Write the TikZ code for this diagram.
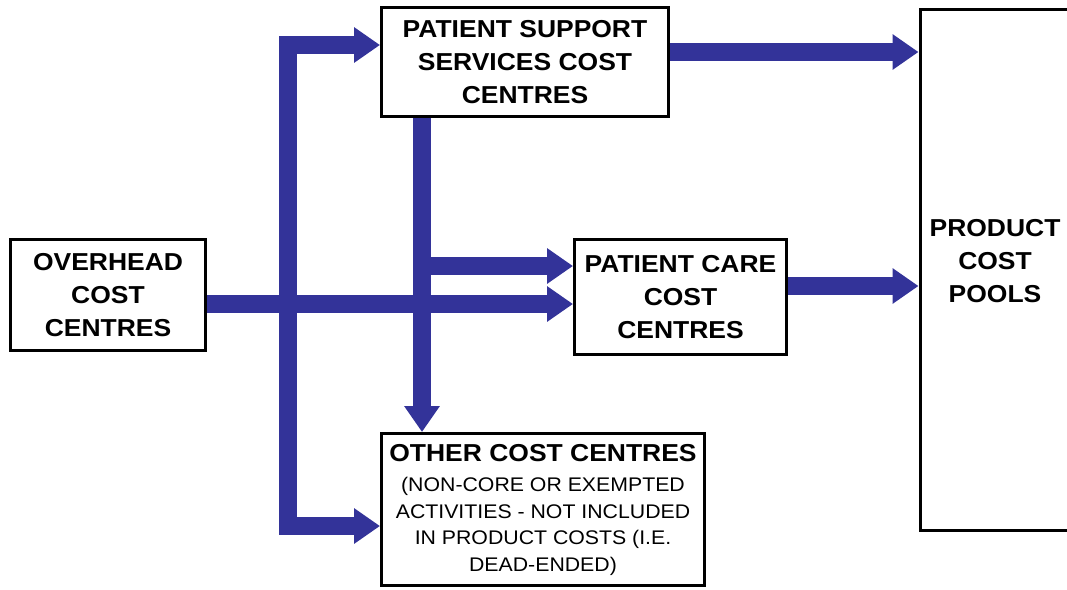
\documentclass[tikz,border=0pt]{standalone}
\usepackage{fontspec}
\setmainfont{Liberation Sans}[FakeStretch=1.08]
\usetikzlibrary{arrows.meta}
\definecolor{flowblue}{HTML}{333399}
\newcommand{\ttlfont}{\fontsize{24.5}{33}\selectfont\bfseries}
\newcommand{\bdyfont}{\fontsize{19.7}{26.5}\selectfont\mdseries}
\begin{document}
\begin{tikzpicture}[x=1pt,y=-1pt,
  box/.style={draw=black,line width=3pt,fill=white,inner sep=0pt,align=center,font=\ttlfont},
  flow/.style={draw=flowblue,line width=18.5pt,line join=miter,
    -{Triangle[width=34pt,length=26pt]}}]
\useasboundingbox (0,0) rectangle (1067,589);
% boxes
\node[box,minimum width=195pt,minimum height=111pt] (ov) at (108,295) {OVERHEAD\\COST\\CENTRES};
\node[box,minimum width=287pt,minimum height=109pt] (ps) at (525,62) {PATIENT SUPPORT\\SERVICES COST\\CENTRES};
\node[box,minimum width=212pt,minimum height=115pt] (pc) at (680.5,297) {PATIENT CARE\\COST\\CENTRES};
\node[box,font=\bdyfont,minimum width=323pt,minimum height=152pt] (other) at (543,509.5)
  {\ttlfont OTHER COST CENTRES\\[4pt]\bdyfont (NON-CORE OR EXEMPTED\\\bdyfont ACTIVITIES - NOT INCLUDED\\\bdyfont IN PRODUCT COSTS (I.E.\\\bdyfont DEAD-ENDED)};
\node[box,minimum width=160pt,minimum height=521pt,anchor=north west] (pool) at (918.5,7.5) {};
\node[font=\ttlfont,align=center,inner sep=0pt] (poolt) at (995,261) {PRODUCT\\COST\\POOLS};
% helper coordinates
\coordinate (tTop) at (288,45);
\coordinate (tBot) at (288,526);
\coordinate (yOv) at (0,304);
\coordinate (yPsPc) at (0,266);
\coordinate (xPs) at (422,0);
\coordinate (yPsOut) at (0,52);
\coordinate (yPcOut) at (0,286);
% connectors
\draw[flow] (tBot) -- (tTop) -- (ps.west |- tTop);
\draw[flow] (tTop) -- (tBot) -- (other.west |- tBot);
\draw[flow] (ov.east |- yOv) -- (pc.west |- yOv);
\draw[flow] (ps.south -| xPs) -- (other.north -| xPs);
\draw[flow] (xPs |- yPsPc) -- (pc.west |- yPsPc);
\draw[flow] (ps.east |- yPsOut) -- (pool.west |- yPsOut);
\draw[flow] (pc.east |- yPcOut) -- (pool.west |- yPcOut);
\end{tikzpicture}
\end{document}
